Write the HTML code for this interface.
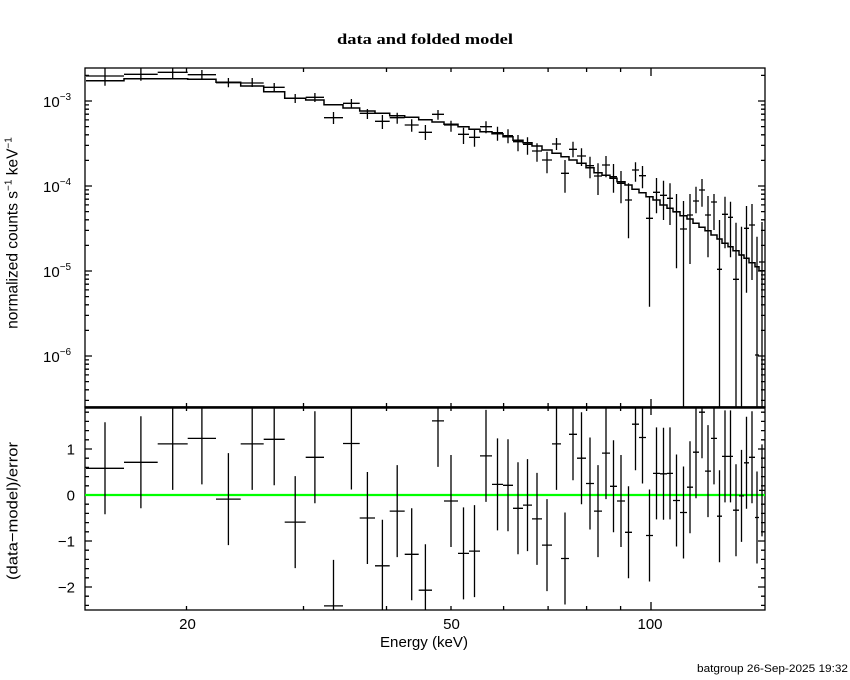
<!DOCTYPE html>
<html>
<head>
<meta charset="utf-8">
<style>
  html, body { margin: 0; padding: 0; background: #fff; }
  svg { display: block; }
  text { font-family: "Liberation Sans", "DejaVu Sans", sans-serif; fill: #000; }
  .serif { font-family: "Liberation Serif", "DejaVu Serif", serif; }
</style>
</head>
<body>
<svg width="850" height="680" viewBox="0 0 850 680" xmlns="http://www.w3.org/2000/svg">
  <rect x="0" y="0" width="850" height="680" fill="#fff"/>

  <text class="serif" x="425" y="44" text-anchor="middle" font-weight="bold" font-size="15" textLength="176" lengthAdjust="spacingAndGlyphs">data and folded model</text>

  <g fill="none" stroke="#000" stroke-width="1.3">
    <rect x="85" y="68" width="680" height="339"/>
    <rect x="85" y="407" width="680" height="203"/>
  </g>
  <line x1="85" y1="407.5" x2="765" y2="407.5" stroke="#000" stroke-width="2.6"/>

  <g fill="none" stroke="#000" stroke-width="1.3">
    <path d="M85 101H92M85 186H92M85 271H92M85 356H92"/>
    <path d="M765 101H758M765 186H758M765 271H758M765 356H758"/>
    <path d="M85 75.4H89M85 160.4H89M85 145.4H89M85 134.8H89M85 126.6H89M85 119.9H89M85 114.2H89M85 109.2H89M85 104.9H89M85 245.4H89M85 230.4H89M85 219.8H89M85 211.6H89M85 204.9H89M85 199.2H89M85 194.2H89M85 189.9H89M85 330.4H89M85 315.4H89M85 304.8H89M85 296.6H89M85 289.9H89M85 284.2H89M85 279.2H89M85 274.9H89M85 400.4H89M85 389.8H89M85 381.6H89M85 374.9H89M85 369.2H89M85 364.2H89M85 359.9H89"/>
    <path d="M765 75.4H761M765 160.4H761M765 145.4H761M765 134.8H761M765 126.6H761M765 119.9H761M765 114.2H761M765 109.2H761M765 104.9H761M765 245.4H761M765 230.4H761M765 219.8H761M765 211.6H761M765 204.9H761M765 199.2H761M765 194.2H761M765 189.9H761M765 330.4H761M765 315.4H761M765 304.8H761M765 296.6H761M765 289.9H761M765 284.2H761M765 279.2H761M765 274.9H761M765 400.4H761M765 389.8H761M765 381.6H761M765 374.9H761M765 369.2H761M765 364.2H761M765 359.9H761"/>
    <path d="M85 449H92M85 495H92M85 541H92M85 587H92M765 449H758M765 495H758M765 541H758M765 587H758"/>
    <path d="M85 412.2H89M85 421.4H89M85 430.6H89M85 439.8H89M85 458.2H89M85 467.4H89M85 476.6H89M85 485.8H89M85 504.2H89M85 513.4H89M85 522.6H89M85 531.8H89M85 550.2H89M85 559.4H89M85 568.6H89M85 577.8H89M85 596.2H89M85 605.4H89M765 412.2H761M765 421.4H761M765 430.6H761M765 439.8H761M765 458.2H761M765 467.4H761M765 476.6H761M765 485.8H761M765 504.2H761M765 513.4H761M765 522.6H761M765 531.8H761M765 550.2H761M765 559.4H761M765 568.6H761M765 577.8H761M765 596.2H761M765 605.4H761"/>
    <path d="M186.5 68V72M303.5 68V72M386.5 68V72M451 68V72M503.6 68V72M548.1 68V72M586.6 68V72M620.6 68V72M651 68V76"/>
    <path d="M186.5 407V403M303.5 407V403M386.5 407V403M451 407V403M503.6 407V403M548.1 407V403M586.6 407V403M620.6 407V403M651 407V399"/>
    <path d="M186.5 407V411M303.5 407V411M386.5 407V411M451 407V411M503.6 407V411M548.1 407V411M586.6 407V411M620.6 407V411M651 407V415"/>
    <path d="M186.5 610V606M303.5 610V606M386.5 610V606M451 610V606M503.6 610V606M548.1 610V606M586.6 610V606M620.6 610V606M651 610V602"/>
  </g>

  <path fill="none" stroke="#000" stroke-width="1.5" d="M86 80.7H124V78.7H157.7V78.7H187.7V79.3H216V82.3H240.7V86H263.7V91.7H284.7V98.3H305.7V100H324V104.7H343V108H359.7V111H375V113.3H389.7V115.7H404.7V117.3H418.7V119.7H432V122H444V124.3H458V126.7H469V129.3H480V131.7H492V133.7H503V136.7H513V140.3H523V142.7H532V146H542V150H552V153.3H561V156.7H569V160H577V163.3H586V167.7H594V172.7H602V175.3H610V178.3H617V181.7H625V185H632V189.3H639V192.7H646V196.7H653V200H660V205H667V208.3H673V211.7H680V215.7H687V219H693V223.3H699V227.3H705V230.7H711V235H717V239H722V243.3H728V246.7H733V250.7H739V255H744V258.3H749V262.7H755V266.7H759V270.7H765"/>

  <path fill="none" stroke="#000" stroke-width="1.3" d="M86 76H124M105 68V85.7M124 74.3H157.7M140.9 68V80.7M157.7 72.3H187.7M172.7 68V78M187.7 74.7H216M201.9 70V79.3M216 82.7H240.7M228.4 78V87.3M240.7 83H263.7M252.2 78V87M263.7 87.3H284.7M274.2 83V92M284.7 98.3H305.7M295.2 94V103M305.7 97.3H324M314.9 93V102M324 117.7H343M333.5 112V124M343 103.3H359.7M351.4 99V108M359.7 113.3H375M367.4 109V119M375 121.3H389.7M382.4 115V129M389.7 117.7H404.7M397.2 112.7V123.7M404.7 125H418.7M411.7 119.3V131.7M418.7 132.3H432M425.4 125V140M432 114.3H444M438 110V119.7M444 125H458M451 120.7V131.7M458 134.3H469M463.5 127.7V144M469 137.3H480M474.5 129.3V146.7M480 126.7H492M486 121.3V133.3M492 132.7H503M497.5 126.7V140.7M503 135.7H513M508 129.3V143.3M513 141.7H523M518 135V151.3M523 144.3H532M527.5 137.3V154.7M532 151H542M537 143.3V161.7M542 160H552M547 151.7V173.3M552 144H561M556.5 138V150M561 173.3H569M565 160V192.7M569 149.3H577M573 141.7V157.3M577 156H586M581.5 148.3V166M586 165.7H594M590 156.7V178.3M594 176H602M598 163.3V195M602 165H610M606 156V177.3M610 176.7H617M613.5 164V192.7M617 183.3H625M621 171V203.3M625 200H632M628.5 183.3V238.3M632 170H639M635.5 162.3V181.7M639 175.7H646M642.5 166V188.3M646 218.3H653M649.5 196V306.7M653 192.3H660M656.5 178V213.3M660 195.3H667M663.5 180.7V220M667 198.3H673M670 183.3V225M673 212H680M676.5 194V268.3M680 229H687M683.5 201V407M687 215H693M690 194V264M693 201H699M696 186.7V213.3M699 190H705M702 179V206.7M705 215H711M708 196V257.3M711 202H717M714 194V230M717 269.3H722M719.5 220V407M722 214.3H728M725 196.7V248.3M728 217.3H733M730.5 201.7V257.3M733 279.3H739M736 222.7V407M739 255H744M741.5 226.7V407M744 228.3H749M746.5 206V292.7M749 225H755M752 204V280M755 355H759M757 236.7V407M759 262H765M762 222V407"/>

  <line x1="85" y1="495" x2="765" y2="495" stroke="#00ff00" stroke-width="2.2"/>

  <path fill="none" stroke="#000" stroke-width="1.3" d="M86 468.3H124M105 422.3V514.3M124 462.3H157.7M140.9 416.3V508.3M157.7 443.9H187.7M172.7 407V489.9M187.7 438.4H216M201.9 407V484.4M216 499.1H240.7M228.4 453.1V545.1M240.7 443.9H263.7M252.2 407V489.9M263.7 439.3H284.7M274.2 407V485.3M284.7 522.1H305.7M295.2 476.1V568.1M305.7 457.3H324M314.9 411.3V503.3M324 605.9H343M333.5 559.9V610M343 443.5H359.7M351.4 407V489.5M359.7 518H375M367.4 472V564M375 565.8H389.7M382.4 519.8V610M389.7 511.1H404.7M397.2 465.1V557.1M404.7 554.3H418.7M411.7 508.3V600.3M418.7 590.2H432M425.4 544.2V610M432 420.9H444M438 407V466.9M444 501H458M451 455V547M458 553.4H469M463.5 507.4V599.4M469 551.1H480M474.5 505.1V597.1M480 455.9H492M486 409.9V501.9M492 484.4H503M497.5 438.4V530.4M503 485.3H513M508 439.3V531.3M513 508.3H523M518 462.3V554.3M523 505.1H532M527.5 459.1V551.1M532 518.9H542M537 472.9V564.9M542 545.1H552M547 499.1V591.1M552 443.9H561M556.5 407V489.9M561 558.5H569M565 512.5V604.5M569 434.3H577M573 407V480.3M577 458.2H586M581.5 412.2V504.2M586 483.5H594M590 437.5V529.5M594 511.1H602M598 465.1V557.1M602 453.1H610M606 407.1V499.1M610 486.3H617M613.5 440.3V532.3M617 501H625M621 455V547M625 532.3H632M628.5 486.3V578.3M632 424.2H639M635.5 407V470.2M639 437.5H646M642.5 407V483.5M646 535.5H653M649.5 489.5V581.5M653 473.4H660M656.5 427.4V519.4M660 473.8H667M663.5 427.8V519.8M667 473.4H673M670 427.4V519.4M673 500.5H680M676.5 454.5V546.5M680 512.5H687M683.5 466.5V558.5M687 487.2H693M690 441.2V533.2M693 452.2H699M696 407V498.2M699 412.2H705M702 407V458.2M705 471.1H711M708 425.1V517.1M711 438.4H717M714 407V484.4M717 516.2H722M719.5 470.2V562.2M722 456.4H728M725 410.4V502.4M728 456.4H733M730.5 410.4V502.4M733 510.2H739M736 464.2V556.2M739 495.9H744M741.5 449.9V541.9M744 462.8H749M746.5 416.8V508.8M749 457.3H755M752 411.3V503.3M755 517.5H759M757 471.5V563.5M759 490.4H765M762 444.4V536.4"/>

  <g font-size="15">
    <text x="43" y="107">10<tspan font-size="10" dy="-7">−3</tspan></text>
    <text x="43" y="192">10<tspan font-size="10" dy="-7">−4</tspan></text>
    <text x="43" y="277">10<tspan font-size="10" dy="-7">−5</tspan></text>
    <text x="43" y="362">10<tspan font-size="10" dy="-7">−6</tspan></text>
  </g>

  <g font-size="15" text-anchor="end">
    <text x="75" y="454.5">1</text>
    <text x="75" y="500.5">0</text>
    <text x="75" y="546.5">−1</text>
    <text x="75" y="592.5">−2</text>
  </g>

  <g font-size="15" text-anchor="middle">
    <text x="187.5" y="629">20</text>
    <text x="451.5" y="629">50</text>
    <text x="650" y="629">100</text>
  </g>
  <text x="424" y="647" font-size="15" text-anchor="middle" textLength="88" lengthAdjust="spacingAndGlyphs">Energy (keV)</text>

  <text transform="translate(17.5,233) rotate(-90)" font-size="15.5" text-anchor="middle">normalized counts s<tspan font-size="10" dy="-6">−1</tspan><tspan dy="6">  keV</tspan><tspan font-size="10" dy="-6">−1</tspan></text>
  <text transform="translate(17.5,511) rotate(-90)" font-size="15" text-anchor="middle" textLength="138" lengthAdjust="spacingAndGlyphs">(data−model)/error</text>

  <text x="697" y="672" font-size="11" textLength="151" lengthAdjust="spacingAndGlyphs">batgroup 26-Sep-2025 19:32</text>
</svg>
</body>
</html>
